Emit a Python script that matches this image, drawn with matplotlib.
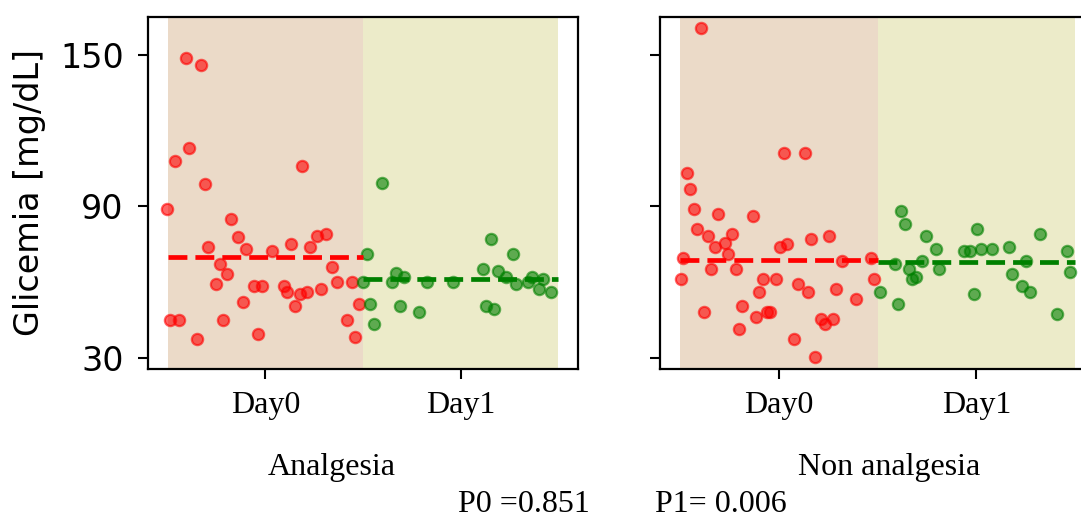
import numpy as np
import matplotlib
matplotlib.use("Agg")
import matplotlib.pyplot as plt

# Glicemija pagal dienas – dvi grupės (reikšmės nuskaitytos nuo paveikslo)

days = ["Day0", "Day1"]
groups = ["Analgesia", "Non analgesia"]
p_texts = ["P0 =0.851", "P1= 0.006"]

# Analgesia, Day0 (x su "jitter", y reikšmė)
an_d0_x = [-0.405, -0.328, -0.388, -0.464, 0.189, -0.309, -0.502, -0.176, -0.137, 0.266,
           0.309, -0.292, -0.097, 0.133, 0.230, 0.036, -0.232, 0.343, -0.195, -0.251,
           -0.058, -0.019, 0.094, 0.111, 0.176, 0.213, 0.287, 0.367, 0.442, -0.115,
           0.152, 0.478, -0.485, -0.442, -0.214, 0.420, -0.347, -0.039, 0.461]
an_d0_y = [148.7, 145.8, 113.0, 108.0, 106.1, 99.0, 89.0, 85.0, 78.0, 78.1,
           79.0, 74.0, 73.2, 75.2, 74.0, 72.3, 67.1, 66.1, 63.0, 59.2,
           58.3, 58.3, 58.3, 56.2, 55.2, 56.2, 57.2, 60.1, 60.1, 52.2,
           50.3, 51.3, 45.0, 45.0, 45.0, 45.0, 37.3, 39.4, 38.2]

# Analgesia, Day1
an_d1_x = [0.520, 0.595, 0.500, 0.538, 0.555, 0.671, 0.650, 0.708, 0.691, 0.785,
           0.827, 0.961, 1.114, 1.155, 1.268, 1.193, 1.234, 1.285, 1.131, 1.172,
           1.345, 1.367, 1.422, 1.402, 1.460]
an_d1_y = [71.2, 99.1, 60.1, 51.3, 43.2, 63.4, 60.1, 62.1, 50.3, 48.2,
           60.1, 60.1, 65.3, 77.2, 71.2, 64.2, 62.1, 59.2, 50.3, 49.1,
           60.1, 62.1, 61.3, 57.2, 56.2]

# Non analgesia, Day0
non_d0_x = [-0.394, 0.025, 0.131, -0.463, -0.446, -0.429, -0.306, -0.130, -0.412, -0.357,
            -0.235, -0.269, -0.324, -0.255, 0.008, 0.043, 0.166, 0.254, -0.483, 0.465,
            0.321, -0.343, -0.218, -0.496, 0.480, -0.078, -0.011, 0.096, 0.149, 0.288,
            -0.097, 0.392, -0.377, -0.185, -0.115, -0.061, -0.045, 0.213, 0.273, 0.235,
            -0.201, 0.077, 0.182]
non_d0_y = [160.8, 111.0, 111.0, 103.1, 97.0, 89.0, 87.1, 86.2, 81.0, 78.1,
            79.0, 75.3, 74.0, 71.2, 74.0, 75.2, 77.2, 78.1, 69.4, 69.4,
            68.3, 65.1, 65.1, 61.2, 61.2, 61.2, 61.2, 59.1, 56.2, 57.2,
            56.2, 53.1, 48.2, 50.3, 46.2, 48.2, 48.2, 45.2, 45.2, 43.2,
            41.2, 37.3, 30.1]

# Non analgesia, Day1
non_d1_x = [0.515, 0.620, 0.638, 0.745, 0.795, 0.586, 0.724, 0.657, 0.812, 0.674,
            0.694, 0.605, 1.004, 0.967, 0.937, 1.021, 1.077, 1.163, 1.321, 1.249,
            1.178, 1.232, 1.269, 0.987, 1.407, 1.459, 1.476]
non_d1_y = [56.2, 88.0, 83.1, 78.1, 73.2, 67.1, 68.3, 65.1, 65.1, 61.3,
            62.1, 51.1, 81.0, 72.2, 72.3, 73.2, 73.2, 74.0, 79.0, 68.3,
            63.0, 58.3, 56.2, 55.2, 47.2, 72.3, 64.1]

duomenys = [
    [(an_d0_x, an_d0_y), (an_d1_x, an_d1_y)],
    [(non_d0_x, non_d0_y), (non_d1_x, non_d1_y)],
]

taskų_spalvos = ["red", "green"]
fono_spalvos = ["#EBDAC8", "#ECEBC9"]

W, H = 1081, 518
fig = plt.figure(figsize=(W / 100, H / 100), dpi=100)

# Ašių vietos pikseliais (kairė, apačia, plotis, aukštis)
pozicijos = [(148, 149, 430, 352), (660, 149, 435, 352)]
axes = []
for l, b, w, h in pozicijos:
    ax = fig.add_axes([l / W, b / H, w / W, h / H], sharey=axes[0] if axes else None)
    axes.append(ax)

for ax, grupė in zip(axes, duomenys):
    for d, (xs, ys) in enumerate(grupė):
        ax.axvspan(d - 0.5, d + 0.5, color=fono_spalvos[d], zorder=0, lw=0)
        ax.scatter(xs, ys, s=66, color=taskų_spalvos[d], alpha=0.6,
                   linewidths=1.6, zorder=3)
        ax.hlines(np.mean(ys), d - 0.5, d + 0.5, colors=taskų_spalvos[d],
                  linestyles=(0, (4.0, 1.7)), linewidth=3.4, zorder=4)

    ax.set_xlim(-0.6, 1.6)
    ax.set_ylim(25.5, 165)
    ax.set_xticks([0, 1])
    ax.set_xticklabels(days, fontfamily="Liberation Serif", fontsize=23)
    ax.set_yticks([30, 90, 150])
    ax.tick_params(axis="both", length=7.5, width=1.5, color="black")
    ax.tick_params(axis="y", pad=10, labelsize=24)
    ax.tick_params(axis="x", pad=8)
    for sp in ax.spines.values():
        sp.set_linewidth(1.6)
        sp.set_color("black")

axes[1].tick_params(axis="y", labelleft=False)
axes[0].set_ylabel("Glicemia [mg/dL]", fontsize=24, labelpad=10)

serif = "Liberation Serif"
fig.text(332 / W, 1 - 467 / H, groups[0], ha="center", va="center",
         fontfamily=serif, fontsize=23)
fig.text(889 / W, 1 - 467 / H, groups[1], ha="center", va="center",
         fontfamily=serif, fontsize=23)
fig.text(524 / W, 1 - 512 / H, p_texts[0], ha="center", va="baseline",
         fontfamily=serif, fontsize=23)
fig.text(721 / W, 1 - 512 / H, p_texts[1], ha="center", va="baseline",
         fontfamily=serif, fontsize=23)

fig.savefig("out.png", dpi=100)
